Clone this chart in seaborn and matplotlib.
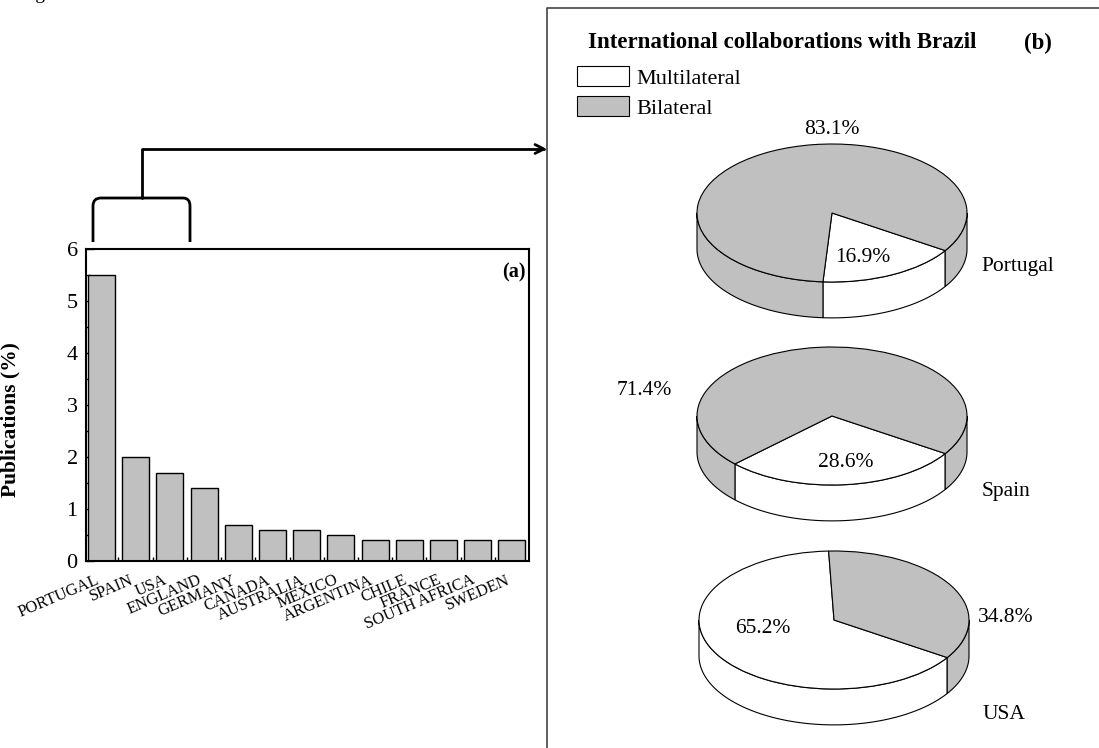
import numpy as np
import pandas as pd
import matplotlib
matplotlib.use("Agg")
import matplotlib.pyplot as plt
from matplotlib.patches import Patch, PathPatch, FancyArrowPatch
from matplotlib.path import Path
from matplotlib.lines import Line2D
from matplotlib.ticker import MultipleLocator, FixedLocator
import seaborn as sns

# ---- data -------------------------------------------------------------
countries = ["PORTUGAL", "SPAIN", "USA", "ENGLAND", "GERMANY", "CANADA",
             "AUSTRALIA", "MEXICO", "ARGENTINA", "CHILE", "FRANCE",
             "SOUTH AFRICA", "SWEDEN"]
publications = [5.5, 2.0, 1.7, 1.4, 0.7, 0.6, 0.6, 0.5, 0.4, 0.4, 0.4, 0.4, 0.4]

pie_countries = ["Portugal", "Spain", "USA"]
collab_types = ["Multilateral", "Bilateral"]
multilateral = [16.9, 28.6, 65.2]
bilateral = [83.1, 71.4, 34.8]

# ---- style ------------------------------------------------------------
sns.set_theme(style="ticks")
plt.rcParams["font.family"] = ["Liberation Serif", "DejaVu Serif"]
plt.rcParams["text.color"] = "black"
plt.rcParams["axes.labelcolor"] = "black"
plt.rcParams["xtick.color"] = "black"
plt.rcParams["ytick.color"] = "black"

GRAY = "#c0c0c0"
W, H = 1099, 748
fig = plt.figure(figsize=(W / 100, H / 100), dpi=100)
fig.patch.set_facecolor("white")


def fx(px):
    return px / W


def fy(py):
    return 1 - py / H


# ---- (a) bar chart ----------------------------------------------------
ax = fig.add_axes([fx(86), fy(561), (529 - 86) / W, (561 - 249) / H])
df = pd.DataFrame({"country": countries, "pub": publications})
sns.barplot(data=df, x="country", y="pub", color=GRAY, saturation=1,
            edgecolor="black", linewidth=1, width=0.79, ax=ax)
ax.set_ylim(0, 6)
ax.set_xlim(-0.45, 12.5)
ax.set_yticks(range(7))
ax.yaxis.set_minor_locator(MultipleLocator(0.5))
ax.xaxis.set_minor_locator(FixedLocator(np.arange(0.5, 12, 1)))
for s in ax.spines.values():
    s.set_visible(True)
    s.set_color("black")
    s.set_linewidth(1.5)
ax.tick_params(which="both", direction="in", top=False, right=False, width=1)
ax.tick_params(axis="y", which="major", length=6, labelsize=16, pad=6)
ax.tick_params(axis="y", which="minor", length=3)
ax.tick_params(axis="x", which="major", length=5, labelsize=11.8, pad=8)
ax.tick_params(axis="x", which="minor", length=3)
ax.set_xticks(range(len(countries)))
ax.set_xticklabels(countries, rotation=23, ha="right")
ax.set_xlabel("")
ax.set_ylabel("Publications (%)", fontsize=15.5, fontweight="bold")
ax.yaxis.set_label_coords((20 - 86) / 443, (561 - 420) / 312)
ax.text(0.965, 0.925, "(a)", transform=ax.transAxes, ha="center", va="center",
        fontsize=14.5, fontweight="bold")

# ---- bracket and arrow linking (a) to (b) -----------------------------
def P(x, y):
    return (fx(x), fy(y))


bracket = Path([P(93, 242), P(93, 206), P(93, 198), P(101, 198),
                P(183, 198), P(190, 198), P(190, 206), P(190, 242)],
               [Path.MOVETO, Path.LINETO, Path.CURVE3, Path.CURVE3,
                Path.LINETO, Path.CURVE3, Path.CURVE3, Path.LINETO])
fig.add_artist(PathPatch(bracket, transform=fig.transFigure, fill=False,
                         lw=2, edgecolor="black"))
stem = Path([P(142, 198), P(142, 149), P(547, 149)])
fig.add_artist(FancyArrowPatch(path=stem, transform=fig.transFigure,
                               arrowstyle="->", mutation_scale=16, lw=2,
                               color="black"))

# ---- (b) frame ---------------------------------------------------------
fig.add_artist(Line2D([fx(547), fx(547), fx(1099)], [fy(748), fy(8), fy(8)],
                      transform=fig.transFigure, color="#444444", lw=1.2))
fig.text(fx(782), fy(43), "International collaborations with Brazil",
         ha="center", va="center", fontsize=16.5, fontweight="bold")
fig.text(fx(1038), fy(43), "(b)", ha="center", va="center",
         fontsize=16.5, fontweight="bold")

handles = [Patch(facecolor="white", edgecolor="black", lw=0.8),
           Patch(facecolor=GRAY, edgecolor="black", lw=0.8)]
fig.legend(handles, collab_types, loc="upper left",
           bbox_to_anchor=(fx(573), fy(62)), frameon=False, fontsize=16,
           handlelength=2.3, handleheight=1.0, handletextpad=0.36,
           labelspacing=0.32, borderaxespad=0, borderpad=0.2)

# ---- (b) 3-D style pies ----------------------------------------------
RX, RY = 135, 69
DEPTH = 0.52
START = -33
pie_colors = ["white", GRAY]
centers = [(832, 213), (832, 416), (834, 620)]
pct_pos = [
    [(0.23, -0.64, "center"), (0.0, 1.21, "center")],
    [(0.10, -0.68, "center"), (-1.39, 0.37, "center")],
    [(-0.53, -0.12, "center"), (1.27, 0.03, "center")],
]
name_pos = [(1.11, -0.77), (1.11, -1.09), (1.10, -1.37)]


def draw_pie(ax, values, colors):
    ax.pie(values, colors=colors, startangle=START, counterclock=False,
           wedgeprops=dict(edgecolor="black", linewidth=0.8))
    total = float(sum(values))
    start = START
    for v, c in zip(values, colors):
        end = start - 360 * v / total
        for k in range(-2, 2):
            lo = max(end, -180 + 360 * k)
            hi = min(start, 360 * k)
            if hi > lo:
                t = np.radians(np.linspace(lo, hi, 120))
                xs, ys = np.cos(t), np.sin(t)
                ax.fill(np.concatenate([xs, xs[::-1]]),
                        np.concatenate([ys, ys[::-1] - DEPTH]),
                        facecolor=c, edgecolor="black", linewidth=0.8,
                        zorder=0)
        start = end
    ax.set_aspect("auto")
    ax.set_xlim(-1.5, 1.5)
    ax.set_ylim(-2.0, 1.5)
    ax.axis("off")


for i, (cx, cy) in enumerate(centers):
    pax = fig.add_axes([fx(cx - 1.5 * RX), fy(cy + 2.0 * RY),
                        3 * RX / W, 3.5 * RY / H])
    vals = [multilateral[i], bilateral[i]]
    draw_pie(pax, vals, pie_colors)
    for (px, py, ha), v in zip(pct_pos[i], vals):
        pax.text(px, py, f"{v:.1f}%", ha=ha, va="center", fontsize=15.5,
                 clip_on=False)
    nx, ny = name_pos[i]
    pax.text(nx, ny, pie_countries[i], ha="left", va="center", fontsize=15.5,
             clip_on=False)

# figure caption running off the top edge
fig.text(fx(19), fy(-1), "Figure", ha="left", va="baseline", fontsize=14)

fig.savefig("out.png", dpi=100, facecolor="white")
